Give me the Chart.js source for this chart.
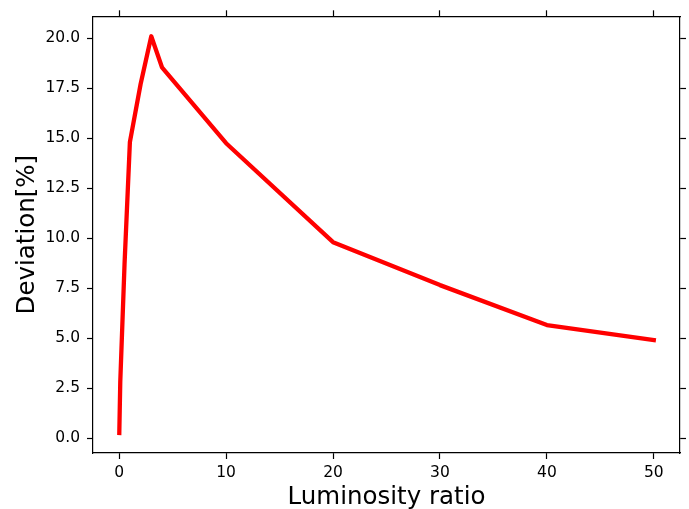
<!DOCTYPE html>
<html>
<head>
<meta charset="utf-8">
<script src="https://cdn.jsdelivr.net/npm/chart.js@4.4.1/dist/chart.umd.min.js"></script>
<style>
  html, body { margin: 0; padding: 0; background: #fff; }
  #wrap { width: 689px; height: 509px; }
</style>
</head>
<body>
<div id="wrap"><canvas id="devChart" width="689" height="509"></canvas></div>
<script>
// luminosity ratio vs. deviation
const ratios     = [0.01, 0.1, 0.5, 1, 2, 3, 4, 10, 20, 30, 40, 50];
const deviations = [0.25, 2.8, 8.7, 14.8, 17.7, 20.1, 18.55, 14.75, 9.8, 7.65, 5.65, 4.9];
const xTicks = [0, 10, 20, 30, 40, 50];
const yTicks = [0, 2.5, 5, 7.5, 10, 12.5, 15, 17.5, 20];

const FONT = 'DejaVu Sans';
const xRange = { min: -2.45, max: 52.45 };
const yRange = { min: -0.75, max: 21.1 };

function fixedTicks(values) {
  return scale => { scale.ticks = values.map(v => ({ value: v })); };
}

function axisBase(range, ticks, position, size) {
  const horizontal = position === 'top' || position === 'bottom';
  return {
    type: 'linear',
    position: position,
    min: range.min,
    max: range.max,
    afterBuildTicks: fixedTicks(ticks),
    afterFit: scale => {
      if (horizontal) scale.height = size; else scale.width = size;
    },
    border: { display: true, color: '#000', width: 1.2 },
    grid: {
      drawOnChartArea: false,
      drawTicks: true,
      tickLength: 6,
      tickColor: '#000',
      tickWidth: 1.2
    },
    ticks: { display: false }
  };
}

const x = axisBase(xRange, xTicks, 'bottom', 56);
x.ticks = { display: true, color: '#000', padding: 5, maxRotation: 0, font: { family: FONT, size: 15.5 } };
x.title = { display: true, text: 'Luminosity ratio', color: '#000', padding: { top: 0, bottom: -3 }, font: { family: FONT, size: 24.5 } };

const y = axisBase(yRange, yTicks, 'left', 93);
y.ticks = {
  display: true, color: '#000', padding: 7, font: { family: FONT, size: 15.5 },
  callback: v => v.toFixed(1)
};
y.title = { display: true, text: 'Deviation[%]', color: '#000', padding: 13, font: { family: FONT, size: 24.5 } };

const x2 = axisBase(xRange, xTicks, 'top', 15);
const y2 = axisBase(yRange, yTicks, 'right', 9);

new Chart(document.getElementById('devChart'), {
  type: 'line',
  data: {
    datasets: [{
      data: ratios.map((r, i) => ({ x: r, y: deviations[i] })),
      borderColor: '#ff0000',
      borderWidth: 4.3,
      borderCapStyle: 'square',
      borderJoinStyle: 'round',
      pointRadius: 0,
      tension: 0,
      fill: false
    }]
  },
  options: {
    responsive: false,
    animation: false,
    layout: { padding: 0 },
    plugins: { legend: { display: false }, tooltip: { enabled: false } },
    scales: { x, y, x2, y2 }
  }
});
</script>
</body>
</html>
